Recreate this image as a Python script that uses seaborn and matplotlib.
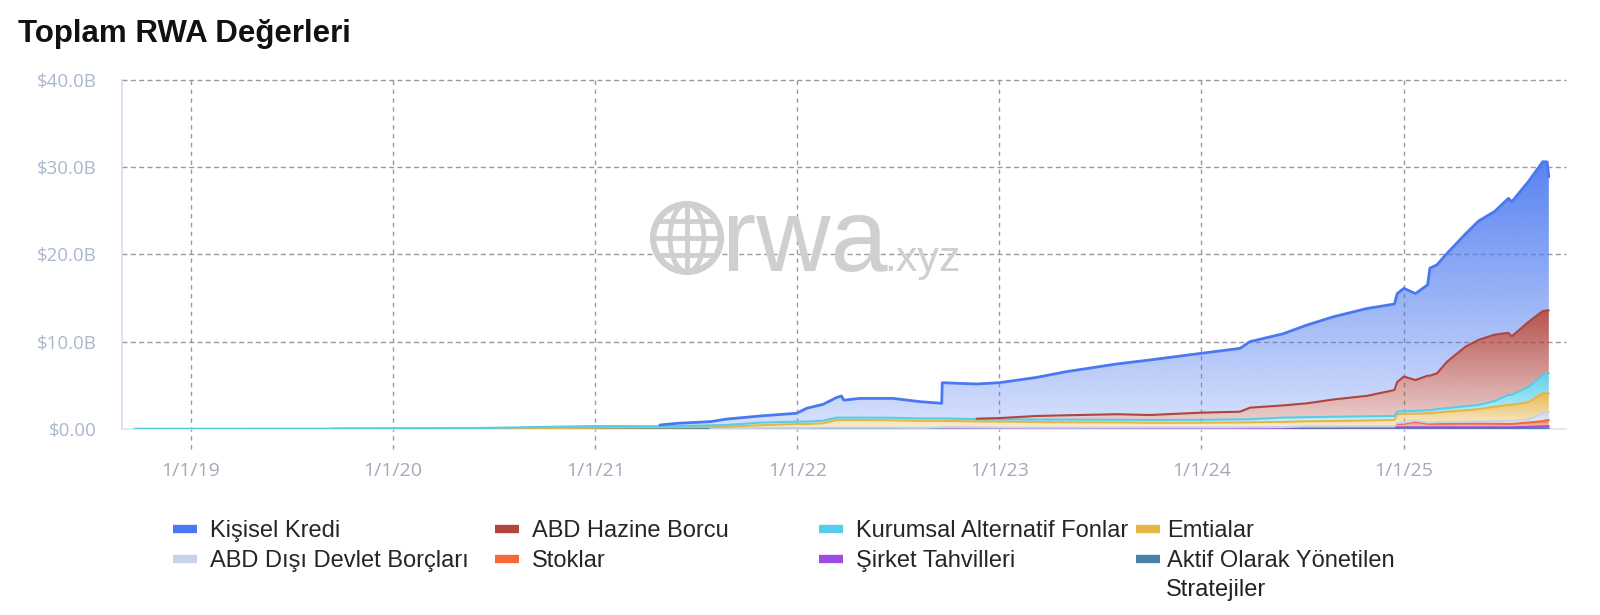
import numpy as np
import pandas as pd
import matplotlib
matplotlib.use("Agg")
import matplotlib.pyplot as plt
import matplotlib.dates as mdates
import matplotlib.colors as mcolors
from matplotlib.lines import Line2D
from matplotlib.patches import Circle, Ellipse
import seaborn as sns

# ---------------------------
# Data (values in $B)
# ---------------------------
dates = [
    "2018-09-22", "2019-09-01", "2019-09-15", "2020-06-01", "2020-10-30",
    "2021-01-01", "2021-04-28", "2021-05-29", "2021-07-28", "2021-08-27",
    "2021-10-26", "2021-12-31", "2022-01-18", "2022-02-17", "2022-03-13",
    "2022-03-22", "2022-03-26", "2022-04-24", "2022-06-23", "2022-08-11",
    "2022-09-19", "2022-09-20", "2022-11-21", "2023-01-01", "2023-03-09",
    "2023-05-02", "2023-08-01", "2023-09-30", "2024-01-01", "2024-03-11",
    "2024-03-29", "2024-05-28", "2024-07-10", "2024-08-27", "2024-10-27",
    "2024-12-15", "2024-12-20", "2025-01-01", "2025-01-22", "2025-02-13",
    "2025-02-17", "2025-03-02", "2025-03-20", "2025-04-22", "2025-05-16",
    "2025-06-14", "2025-07-09", "2025-07-15", "2025-08-15", "2025-09-09",
    "2025-09-17", "2025-09-20",
]

aktif = [0, 0, 0, 0, 0.02, 0.03, 0.05, 0.06, 0.06, 0.08,
         0.10, 0.10, 0.10, 0.10, 0.10, 0.10, 0.10, 0.10, 0.10, 0.08,
         0.08, 0.08, 0.07, 0.06, 0.05, 0.05, 0.05, 0.05, 0.05, 0.05,
         0.05, 0.05, 0.05, 0.05, 0.05, 0.05, 0.05, 0.05, 0.05, 0.05,
         0.05, 0.05, 0.05, 0.05, 0.05, 0.05, 0.05, 0.05, 0.05, 0.05,
         0.05, 0.05]
sirket = [0, 0, 0, 0, 0, 0, 0, 0, 0, 0,
          0, 0, 0, 0, 0, 0, 0, 0, 0, 0,
          0.05, 0.05, 0.05, 0.05, 0.05, 0.05, 0.06, 0.06, 0.06, 0.06,
          0.07, 0.08, 0.15, 0.15, 0.15, 0.15, 0.15, 0.15, 0.15, 0.15,
          0.15, 0.15, 0.15, 0.15, 0.15, 0.15, 0.15, 0.15, 0.20, 0.25,
          0.27, 0.27]
stoklar = [0, 0, 0, 0, 0, 0, 0, 0, 0, 0,
           0, 0, 0, 0, 0, 0, 0, 0, 0, 0,
           0, 0, 0, 0, 0, 0, 0, 0, 0, 0,
           0, 0, 0.02, 0.02, 0.02, 0.02, 0.37, 0.40, 0.64, 0.40,
           0.40, 0.40, 0.40, 0.42, 0.42, 0.40, 0.38, 0.38, 0.50, 0.60,
           0.70, 0.70]
disi = [0, 0, 0, 0, 0, 0, 0, 0, 0.01, 0.02,
        0.03, 0.03, 0.03, 0.05, 0.05, 0.05, 0.05, 0.05, 0.05, 0.05,
        0.05, 0.05, 0.05, 0.05, 0.05, 0.05, 0.05, 0.06, 0.06, 0.07,
        0.07, 0.08, 0.08, 0.09, 0.10, 0.10, 0.12, 0.13, 0.12, 0.15,
        0.15, 0.18, 0.20, 0.22, 0.25, 0.30, 0.35, 0.35, 0.35, 0.90,
        0.95, 0.95]
emtia = [0, 0, 0.04, 0.08, 0.10, 0.12, 0.14, 0.13, 0.15, 0.16,
         0.30, 0.44, 0.44, 0.50, 0.88, 0.88, 0.88, 0.88, 0.85, 0.80,
         0.75, 0.75, 0.70, 0.70, 0.65, 0.62, 0.60, 0.55, 0.55, 0.57,
         0.58, 0.60, 0.58, 0.60, 0.65, 0.71, 1.01, 1.00, 0.80, 1.05,
         1.05, 1.12, 1.18, 1.30, 1.40, 1.65, 1.82, 1.82, 2.00, 2.30,
         2.10, 2.10]
kurumsal = [0.03, 0.04, 0.02, 0.03, 0.15, 0.19, 0.12, 0.15, 0.20, 0.20,
            0.30, 0.27, 0.27, 0.30, 0.27, 0.27, 0.27, 0.27, 0.28, 0.28,
            0.28, 0.28, 0.25, 0.24, 0.28, 0.30, 0.30, 0.31, 0.33, 0.35,
            0.35, 0.49, 0.47, 0.49, 0.48, 0.46, 0.28, 0.30, 0.32, 0.35,
            0.35, 0.38, 0.40, 0.46, 0.48, 0.65, 1.15, 1.15, 1.74, 2.10,
            2.30, 2.30]
hazine = [0, 0, 0, 0, 0, 0, 0, 0, 0, 0,
          0, 0, 0, 0, 0, 0, 0, 0, 0, 0,
          0, 0, 0.06, 0.15, 0.41, 0.50, 0.63, 0.57, 0.82, 0.88,
          1.32, 1.40, 1.59, 1.98, 2.35, 2.97, 3.40, 3.97, 3.52, 3.95,
          3.95, 4.09, 5.32, 6.80, 7.45, 7.60, 7.10, 6.70, 7.46, 7.30,
          7.20, 7.20]
kisisel = [0, 0, 0, 0, 0, 0, 0.15, 0.31, 0.42, 0.68,
           0.76, 0.96, 1.53, 1.88, 2.30, 2.48, 2.00, 2.20, 2.22, 1.92,
           1.73, 4.09, 3.97, 4.05, 4.41, 4.99, 5.75, 6.30, 6.79, 7.25,
           7.56, 8.20, 8.96, 9.47, 10.00, 9.84, 10.12, 10.10, 9.90, 10.40,
           12.30, 12.43, 12.40, 12.90, 13.60, 14.10, 15.40, 15.40, 16.10, 17.10,
           17.00, 15.30]

# stack order bottom -> top
layers = [
    ("Aktif Olarak Yönetilen Stratejiler", aktif, "#4a7fa8"),
    ("Şirket Tahvilleri", sirket, "#9a4de0"),
    ("Stoklar", stoklar, "#f4683a"),
    ("ABD Dışı Devlet Borçları", disi, "#c5d4e8"),
    ("Emtialar", emtia, "#e5b545"),
    ("Kurumsal Alternatif Fonlar", kurumsal, "#55cde8"),
    ("ABD Hazine Borcu", hazine, "#b0443f"),
    ("Kişisel Kredi", kisisel, "#4a78f0"),
]

legend_cols = [
    ["Kişisel Kredi", "ABD Dışı Devlet Borçları"],
    ["ABD Hazine Borcu", "Stoklar"],
    ["Kurumsal Alternatif Fonlar", "Şirket Tahvilleri"],
    ["Emtialar", "Aktif Olarak Yönetilen Stratejiler"],
]

# ---------------------------
# Figure
# ---------------------------
sns.set_theme(style="white")
plt.rcParams["font.family"] = ["Liberation Sans", "DejaVu Sans"]

fig = plt.figure(figsize=(16, 6.15), dpi=100)
ax = fig.add_axes([122 / 1600, 1 - 429 / 615, (1566 - 122) / 1600, (429 - 79.5) / 615])

x = pd.to_datetime(dates)
xnum = mdates.date2num(x)
lower = np.zeros(len(dates))
colors = {}
for name, vals, col in layers:
    vals = np.array(vals, dtype=float)
    upper = lower + vals
    colors[name] = col
    poly = ax.fill_between(x, lower, upper, facecolor="none", edgecolor="none")
    grad = np.zeros((256, 1, 4))
    grad[..., :3] = mcolors.to_rgb(col)
    grad[:, 0, 3] = np.linspace(0.92, 0.22, 256)
    im = ax.imshow(grad, aspect="auto", origin="upper", interpolation="bilinear",
                   extent=[xnum.min(), xnum.max(), 0, max(upper.max(), 0.01)], zorder=1)
    im.set_clip_path(poly.get_paths()[0], transform=ax.transData)
    line_y = np.where(vals > 0, upper, np.nan)
    lw = 2.0 if name == "Kişisel Kredi" else 1.5
    sns.lineplot(x=x, y=line_y, ax=ax, color=col, lw=lw, zorder=3)
    lower = upper

ax.set_xlim(pd.Timestamp("2018-08-30"), pd.Timestamp("2025-10-21"))
ax.set_ylim(0, 40)
ax.set_xlabel("")
ax.set_ylabel("")

# grid
for v in [10, 20, 30, 40]:
    ax.axhline(v, color="#9a9a9a", lw=1.0, ls=(0, (3.6, 2.4)), zorder=0.5, clip_on=False)
year_ticks = pd.to_datetime([f"{y}-01-01" for y in range(2019, 2026)])
for d in year_ticks:
    ax.axvline(d, ymin=-0.057, ymax=1, color="#9a9a9a", lw=1.0, ls=(0, (3.2, 3.2)),
               zorder=0.5, clip_on=False)

ax.set_xticks(year_ticks)
ax.set_xticklabels([f"{d.month}/{d.day}/{d:%y}" for d in year_ticks])
ax.set_yticks([0, 10, 20, 30, 40])
ax.set_yticklabels(["$0.00", "$10.0B", "$20.0B", "$30.0B", "$40.0B"])
ax.tick_params(axis="x", length=0, pad=24, labelsize=14, labelcolor="#a3aab6")
ax.tick_params(axis="y", length=0, pad=18, labelsize=13.5, labelcolor="#aab7cc")
for lab in ax.get_xticklabels() + ax.get_yticklabels():
    lab.set_fontfamily(["Open Sans", "DejaVu Sans"])

sns.despine(ax=ax, top=True, right=True)
ax.spines["left"].set_color("#cfe0ee")
ax.spines["bottom"].set_color("#dbe6f0")

# watermark
wm = "#cfcfcf"
gax = fig.add_axes([(687 - 39) / 1600, 1 - (238 + 39) / 615, 78 / 1600, 78 / 615])
gax.set_xlim(-1.15, 1.15)
gax.set_ylim(-1.15, 1.15)
gax.set_aspect("equal")
gax.axis("off")
gax.add_patch(Circle((0, 0), 1, fill=False, ec=wm, lw=4.5))
gax.add_patch(Ellipse((0, 0), 1.0, 2.0, fill=False, ec=wm, lw=3.5))
gax.plot([0, 0], [-1, 1], color=wm, lw=3.5)
gax.plot([-1, 1], [0, 0], color=wm, lw=3.5)
for yy in [0.5, -0.5]:
    xx = np.sqrt(1 - yy ** 2)
    gax.plot([-xx, xx], [yy, yy], color=wm, lw=3.5)
fig.text(722 / 1600, 1 - 271 / 615, "rwa", fontsize=74, color=wm, va="baseline", ha="left")
fig.text(884 / 1600, 1 - 271 / 615, ".xyz", fontsize=31, color=wm, va="baseline", ha="left")

# title
fig.text(18 / 1600, 1 - 34 / 615, "Toplam RWA Değerleri", fontsize=22.5, fontweight="bold",
         color="#111111", va="center", ha="left")

# legend, fixed-width columns
col_x = [173, 495, 819, 1136]
pads = [0.55, 0.55, 0.55, 0.3]
for cx, pad, names in zip(col_x, pads, legend_cols):
    handles = [Line2D([], [], color=colors[n], lw=6, solid_capstyle="butt") for n in names]
    labels = ["Aktif Olarak Yönetilen" if n.startswith("Aktif") else n for n in names]
    fig.legend(handles, labels, loc="upper left", bbox_to_anchor=(cx / 1600, 1 - 520 / 615),
               frameon=False, fontsize=17, handlelength=1.0, handletextpad=pad,
               labelspacing=0.33, borderpad=0, borderaxespad=0)
fig.text(1166 / 1600, 1 - 590 / 615, "Stratejiler", fontsize=17, color="#222222",
         va="center", ha="left")

plt.savefig("out.png", dpi=100)
